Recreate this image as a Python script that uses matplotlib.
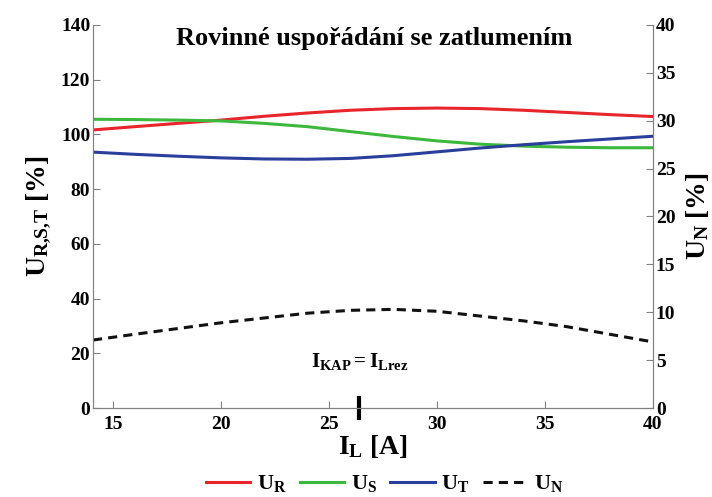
import matplotlib
matplotlib.use("Agg")
import matplotlib.pyplot as plt
import numpy as np

plt.rcParams['font.family'] = ['Liberation Serif', 'DejaVu Serif']
plt.rcParams['font.weight'] = 'bold'
plt.rcParams['axes.labelweight'] = 'bold'
plt.rcParams['mathtext.fontset'] = 'custom'
plt.rcParams['mathtext.rm'] = 'Liberation Serif:bold'
plt.rcParams['mathtext.it'] = 'Liberation Serif:bold'
plt.rcParams['mathtext.bf'] = 'Liberation Serif:bold'

# proud zatezovaci civkou [A]
i_l = [14.07, 16, 18, 20, 22, 24, 26, 28, 30, 32, 34, 36, 38, 40]
# napeti fazi [%]
u_r = [101.6, 102.8, 104.0, 105.2, 106.6, 107.8, 108.8, 109.4, 109.6, 109.4, 108.8, 108.0, 107.2, 106.5]
u_s = [105.5, 105.4, 105.2, 104.9, 104.0, 102.8, 101.0, 99.2, 97.6, 96.4, 95.7, 95.3, 95.1, 95.1]
u_t = [93.5, 92.7, 92.0, 91.4, 91.0, 90.9, 91.2, 92.2, 93.6, 95.0, 96.2, 97.3, 98.3, 99.3]
# napeti nuloveho bodu [%]
u_n = [7.1, 7.7, 8.3, 8.9, 9.4, 9.9, 10.2, 10.3, 10.1, 9.6, 9.1, 8.5, 7.7, 6.9]
i_rez = 26.4

fig = plt.figure(figsize=(7.12, 4.97), dpi=100)
ax = fig.add_axes([0.1306, 0.179, 0.7865, 0.771])
ax2 = ax.twinx()

l1, = ax.plot(i_l, u_r, color='#e8252a', lw=2.2, label='$U_R$')
l2, = ax.plot(i_l, u_s, color='#3cb83c', lw=2.2, label='$U_S$')
l3, = ax.plot(i_l, u_t, color='#2a3f9c', lw=2.2, label='$U_T$')
l4, = ax2.plot(i_l, u_n, color='#111111', lw=2.2, ls=(0, (3, 2)), label='$U_N$')

ax.set_xlim(14.07, 40)
ax.set_ylim(0, 140)
ax2.set_ylim(0, 40)
ax.set_xticks([15, 20, 25, 30, 35, 40])
ax.set_yticks(np.arange(0, 141, 20))
ax2.set_yticks(np.arange(0, 41, 5))

for a in (ax, ax2):
    a.spines['top'].set_visible(False)
    for s in ('left', 'right', 'bottom'):
        a.spines[s].set_color('#808080')
    a.tick_params(direction='in', length=5, color='#808080', labelsize=14, pad=2)
ax.tick_params(axis='x', pad=6)
for lab in ax.get_xticklabels() + ax.get_yticklabels() + ax2.get_yticklabels():
    lab.set_fontweight('bold')

# rezonancni bod
ax.plot([i_rez, i_rez], [-3.5, 3.5], color='black', lw=3, clip_on=False)
ax.text(i_rez, 17, r'$I_{KAP} = I_{Lrez}$', ha='center', va='center', fontsize=15)

ax.text(0.503, 0.995, 'Rovinné uspořádání se zatlumením', transform=ax.transAxes,
        ha='center', va='top', fontsize=19, fontweight='bold')
ax.set_xlabel(r'$I_L$ [A]', fontsize=20, labelpad=0)
ax.set_ylabel(r'$U_{R{,}S{,}T}$ [%]', fontsize=20, labelpad=6)
ax2.set_ylabel(r'$U_N$ [%]', fontsize=20, labelpad=6)

fig.legend(handles=[l1, l2, l3, l4], loc='lower center', ncol=4, frameon=False,
           bbox_to_anchor=(0.54, -0.035), fontsize=16, handlelength=2.0,
           handletextpad=0.3, columnspacing=0.6)

fig.savefig('out.png', dpi=100)
